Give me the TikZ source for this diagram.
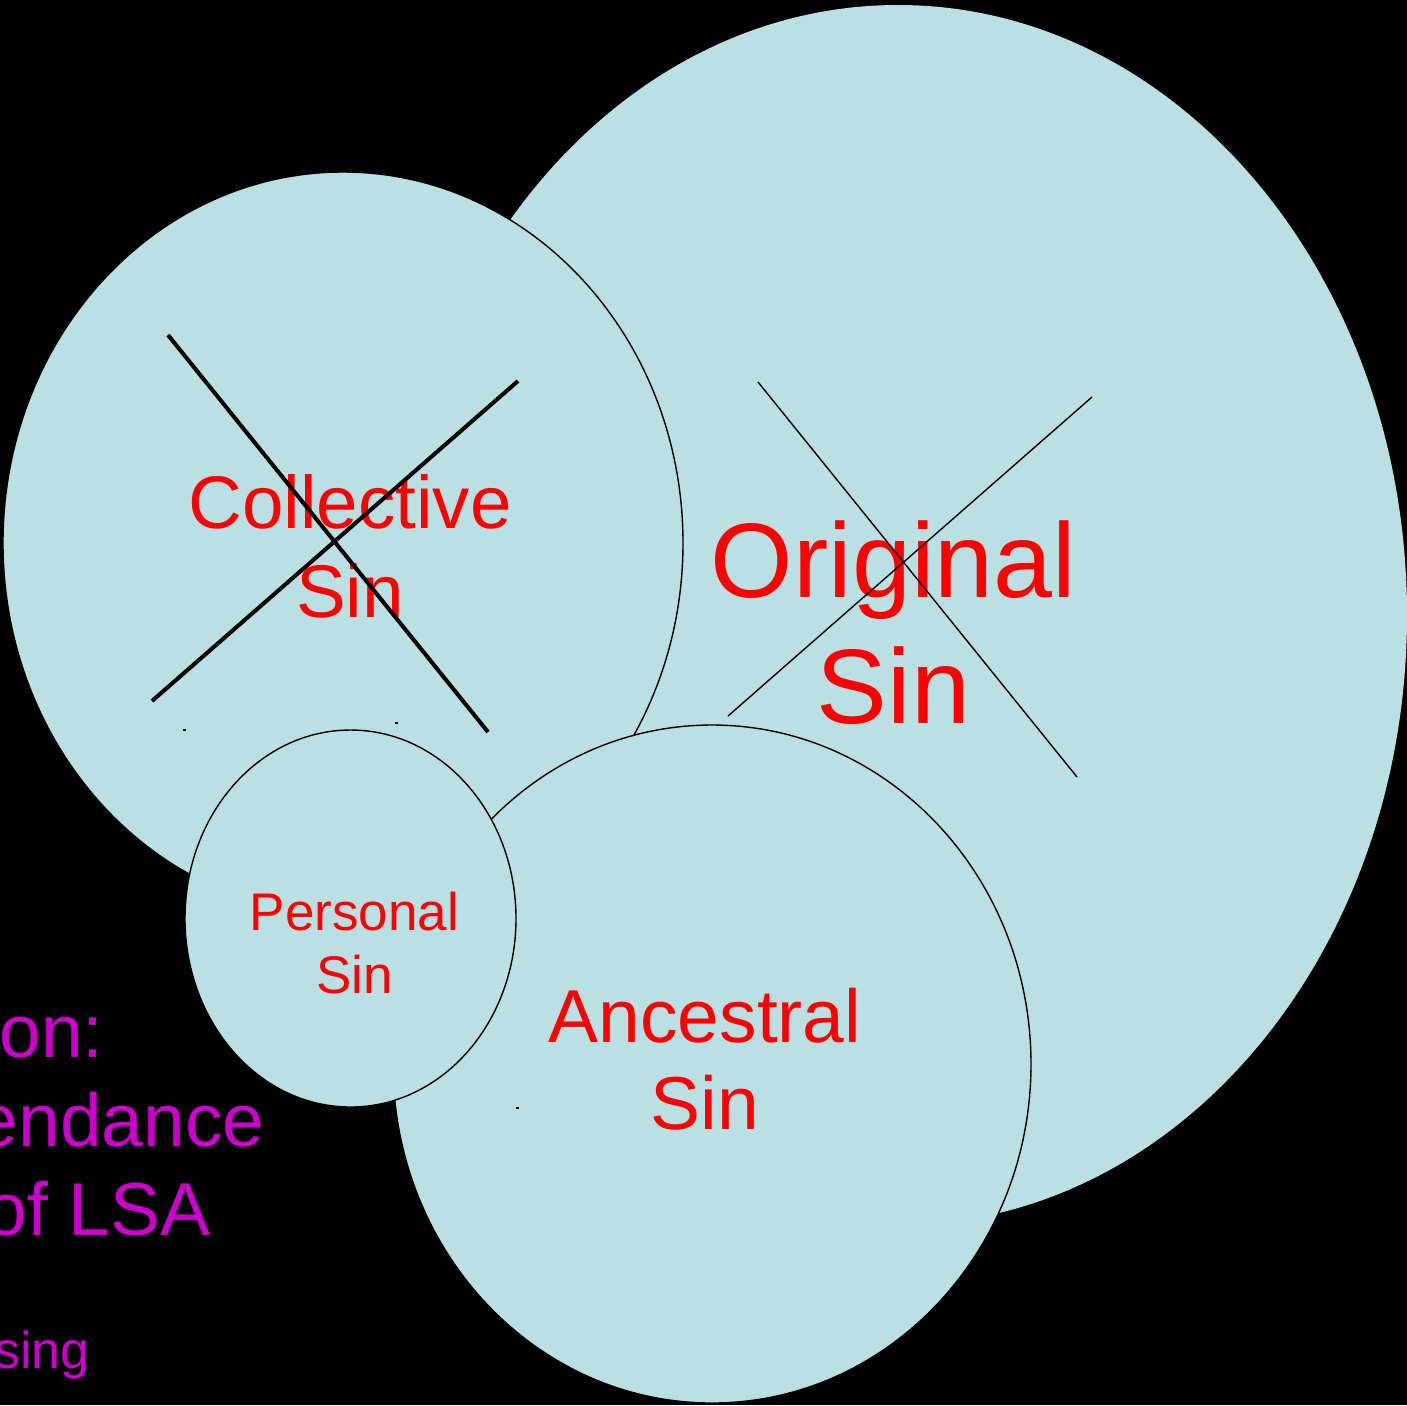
\documentclass[tikz,border=0pt]{standalone}
\usepackage{fontspec}
\setmainfont{Liberation Sans}
\usetikzlibrary{shapes.geometric}
\definecolor{sinblue}{HTML}{BBE0E3}
\definecolor{sinred}{HTML}{FF0000}
\definecolor{notepink}{HTML}{CC00CC}
\tikzset{
  sin/.style={ellipse, fill=sinblue, draw=black, line width=0.7pt, inner sep=0pt},
  sintext/.style={text=sinred, align=center, inner sep=0pt, anchor=base},
  note/.style={text=notepink, inner sep=0pt, anchor=base east},
  cross/.style={draw=black, line width=0.7pt},
}

\begin{document}
\begin{tikzpicture}[x=0.5pt, y=-0.5pt]
        \fill[black] (0,0) rectangle (1407,1405);
        \useasboundingbox (0,0) rectangle (1407,1405);
        \node[sin, draw=none, minimum width=509pt, minimum height=610pt] (original) at (898,615) {};
        \node[sintext, font=\fontsize{53}{63}\selectfont] (originaltext) at (893.5,723) {Original\\Sin};
        \coordinate (o1) at (758,382);
        \coordinate (o2) at (1077,777);
        \coordinate (o3) at (728,716);
        \coordinate (o4) at (1092,397);
        \draw[cross] (o1) -- (o2);
        \draw[cross] (o3) -- (o4);
        \node[sin, minimum width=340pt, minimum height=371pt] (collective) at (343,543) {};
        \node[sintext, font=\fontsize{37.3}{44.5}\selectfont] (collectivetext) at (350,617) {Collective\\Sin};
        \coordinate (c1) at (168,335);
        \coordinate (c2) at (488,732);
        \coordinate (c3) at (152,701);
        \coordinate (c4) at (518,381);
        \draw[cross, line width=2pt] (c1) -- (c2);
        \draw[cross, line width=2pt] (c3) -- (c4);
        \fill (183,729) rectangle (186,731);
        \fill (395,722) rectangle (398,724);
        \node[sin, minimum width=319pt, minimum height=339pt] (ancestral) at (712,1064) {};
        \node[sintext, font=\fontsize{37.5}{43.5}\selectfont] (ancestraltext) at (705,1129) {Ancestral\\Sin};
        \fill (516,1107) rectangle (519,1109);
        \node[sin, minimum width=165.5pt, minimum height=188.5pt] (personal) at (350.5,918.5) {};
        \node[sintext, font=\fontsize{26.5}{31.4}\selectfont] (personaltext) at (354.5,993) {Personal\\Sin};
        \node[note, font=\fontsize{37.5}{45}\selectfont] (on) at (104,1057) {on:};
        \node[note, font=\fontsize{37.5}{45}\selectfont] (endance) at (265,1146) {endance};
        \node[note, font=\fontsize{37.5}{45}\selectfont] (lsa) at (211,1235) {of LSA};
        \node[note, font=\fontsize{26}{31}\selectfont] (sing) at (90,1368) {sing};
    \end{tikzpicture}
\end{document}
